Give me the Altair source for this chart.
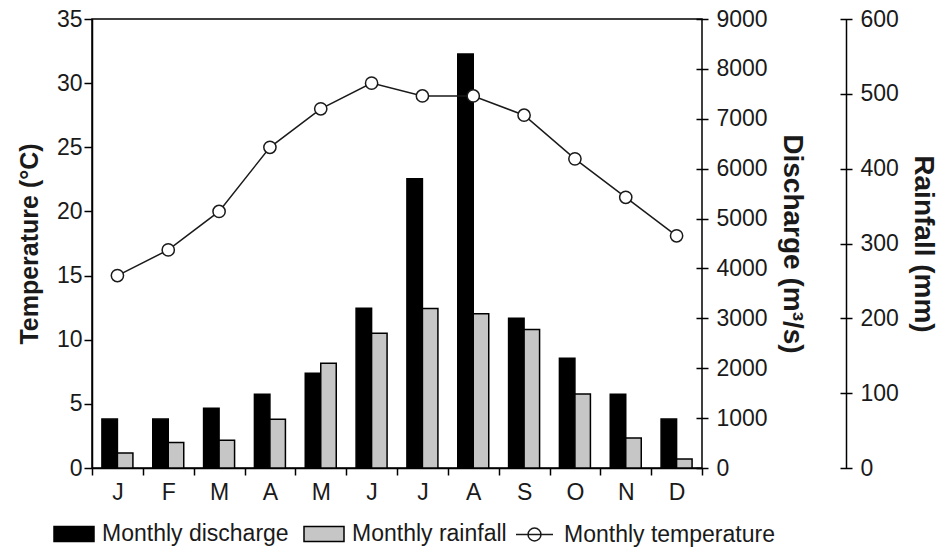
import altair as alt
import pandas as pd

months = ["Jan", "Feb", "Mar", "Apr", "May", "Jun", "Jul", "Aug", "Sep", "Oct", "Nov", "Dec"]
discharge = [980, 980, 1200, 1480, 1900, 3200, 5800, 8300, 3000, 2200, 1480, 980]
rainfall = [20, 34, 37, 65, 140, 180, 213, 206, 185, 99, 40, 12]
temperature = [15.0, 17.0, 20.0, 25.0, 28.0, 30.0, 29.0, 29.0, 27.5, 24.1, 21.1, 18.1]

bar_series = ["Monthly discharge", "Monthly rainfall"]
line_series = ["Monthly temperature"]

FONT = "Liberation Sans"
INK = "#1a1a1a"

df_d = pd.DataFrame({"month": months, "value": discharge, "series": bar_series[0]})
df_r = pd.DataFrame({"month": months, "value": rainfall, "series": bar_series[1]})
df_t = pd.DataFrame({"month": months, "value": temperature, "series": line_series[0]})

x_enc = alt.X(
    "month:N",
    sort=months,
    scale=alt.Scale(domain=months, paddingInner=0, paddingOuter=0),
    axis=alt.Axis(
        title=None,
        tickBand="extent",
        tickSize=7,
        labelPadding=6,
        labelExpr="substring(datum.label, 0, 1)",
        labelAngle=0,
    ),
)

xoff = alt.XOffset(
    "series:N",
    scale=alt.Scale(domain=bar_series, paddingInner=0, paddingOuter=0.64),
)

color_enc = alt.Color(
    "series:N",
    scale=alt.Scale(domain=bar_series, range=["#000000", "#c6c6c6"]),
    legend=alt.Legend(
        title=None,
        orient="none",
        legendX=-39,
        legendY=494,
        direction="horizontal",
        symbolType="M-1,-0.375H1V0.375H-1Z",
        symbolSize=1600,
        symbolStrokeColor="black",
        symbolStrokeWidth=1.5,
        labelFontSize=23,
        labelOffset=7,
        labelLimit=0,
        columnPadding=12,
        padding=0,
    ),
)

bars_d = alt.Chart(df_d).mark_bar(stroke="black", strokeWidth=1.5).encode(
    x=x_enc,
    xOffset=xoff,
    y=alt.Y(
        "value:Q",
        scale=alt.Scale(domain=[0, 9000], nice=False),
        axis=alt.Axis(
            orient="right",
            offset=-6,
            tickSize=12,
            domain=False,
            values=list(range(0, 9001, 1000)),
            format="d",
            labelPadding=8,
            title="Discharge (m³/s)",
            titleFontSize=28,
            titlePadding=10,
        ),
    ),
    color=color_enc,
)

bars_r = alt.Chart(df_r).mark_bar(stroke="black", strokeWidth=1.5).encode(
    x=x_enc,
    xOffset=xoff,
    y=alt.Y(
        "value:Q",
        scale=alt.Scale(domain=[0, 600], nice=False),
        axis=alt.Axis(
            orient="right",
            offset=138,
            tickSize=12,
            domain=False,
            values=list(range(0, 601, 100)),
            format="d",
            labelPadding=8,
            title="Rainfall (mm)",
            titleFontSize=28,
            titlePadding=10,
        ),
    ),
    color=color_enc,
)

rain_domain = alt.Chart(df_r).mark_tick(opacity=0).encode(
    x=x_enc,
    y=alt.Y(
        "value:Q",
        scale=alt.Scale(domain=[0, 600], nice=False),
        axis=alt.Axis(
            orient="right",
            offset=144,
            ticks=False,
            labels=False,
            domain=True,
            title=None,
        ),
    ),
)

line_t = alt.Chart(df_t).mark_line(
    strokeWidth=1.5,
    point=alt.OverlayMarkDef(shape="circle", size=150, filled=True, fill="white", strokeWidth=1.5),
).encode(
    x=x_enc,
    y=alt.Y(
        "value:Q",
        scale=alt.Scale(domain=[0, 35], nice=False),
        axis=alt.Axis(
            orient="left",
            tickSize=8,
            labelPadding=2,
            values=list(range(0, 36, 5)),
            title="Temperature (°C)",
            titleFontSize=25,
            titlePadding=14,
        ),
    ),
    stroke=alt.Stroke(
        "series:N",
        scale=alt.Scale(domain=line_series, range=[INK]),
        legend=alt.Legend(
            title=None,
            orient="none",
            legendX=423,
            legendY=496,
            direction="horizontal",
            symbolType="M-1,0H1M0.35,0A0.35,0.35 0 1 1 -0.35,0A0.35,0.35 0 1 1 0.35,0",
            symbolSize=1369,
            symbolStrokeWidth=1.5,
            labelFontSize=23,
            labelOffset=10,
            labelLimit=0,
            padding=0,
        ),
    ),
)

chart = alt.layer(bars_d, bars_r, rain_domain, line_t).resolve_scale(
    y="independent"
).properties(
    width=610,
    height=449,
    autosize=alt.AutoSizeParams(type="none"),
    padding={"left": 92, "top": 19, "right": 239, "bottom": 82},
).configure(
    font=FONT,
).configure_view(
    stroke="black", strokeWidth=1.5
).configure_axis(
    labelFont=FONT,
    labelFontSize=23,
    labelColor=INK,
    titleFont=FONT,
    titleFontSize=26,
    titleFontWeight="bold",
    titleColor=INK,
    domainColor="black",
    domainWidth=1.5,
    tickColor="black",
    tickWidth=1.5,
    grid=False,
).configure_legend(
    labelFont=FONT,
    labelColor=INK,
)

chart.save("out.html", embed_options={"renderer": "svg", "actions": False})
